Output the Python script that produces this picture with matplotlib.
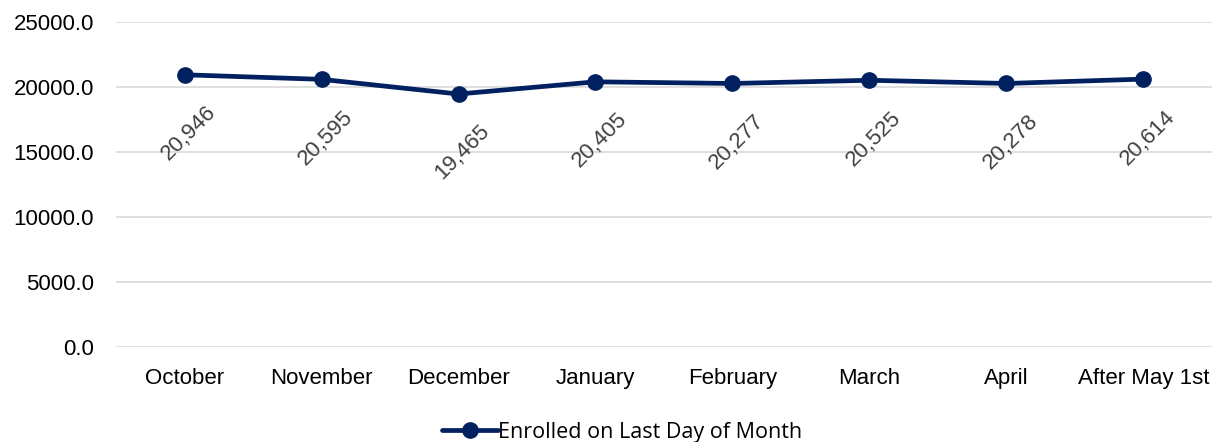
import matplotlib.pyplot as plt

# chart data
months = ["October", "November", "December", "January", "February",
          "March", "April", "After May 1st"]
enrolled = [20946, 20595, 19465, 20405, 20277, 20525, 20278, 20614]

navy = "#002060"

fig = plt.figure(figsize=(12.19, 4.42), dpi=100)
ax = fig.add_axes([0.0952, 0.215, 0.899, 0.735])

x = range(len(months))
line, = ax.plot(x, enrolled, color=navy, linewidth=3.4, marker="o",
                markersize=11, label="Enrolled on Last Day of Month",
                solid_capstyle="round", zorder=3)

# data labels, rotated under each point
for i, v in zip(x, enrolled):
    ax.annotate(f"{v:,}", (i, v), xytext=(3, -42), textcoords="offset points",
                ha="center", va="center", rotation=45, fontsize=16,
                color="#404040", family="Liberation Sans")

ax.set_xlim(-0.5, len(months) - 0.5)
ax.set_ylim(0, 25000)
ax.set_yticks(range(0, 25001, 5000))
ax.set_yticklabels([f"{t:.1f}" for t in range(0, 25001, 5000)])
ax.set_xticks(list(x))
ax.set_xticklabels(months)
ax.grid(axis="y", color="#d9d9d9", linewidth=1.2)
ax.set_axisbelow(True)
for s in ax.spines.values():
    s.set_visible(False)
ax.tick_params(length=0, labelsize=16)
ax.tick_params(axis="y", pad=16)
ax.tick_params(axis="x", pad=15)
for lbl in ax.get_xticklabels() + ax.get_yticklabels():
    lbl.set_family("Liberation Sans")
    lbl.set_color("black")

fig.legend(handles=[line], loc="lower center", bbox_to_anchor=(0.51, -0.045),
           frameon=False, prop={"family": "Open Sans", "size": 15.5},
           handlelength=2.6, handletextpad=0.0)

fig.savefig("out.png", dpi=100)
